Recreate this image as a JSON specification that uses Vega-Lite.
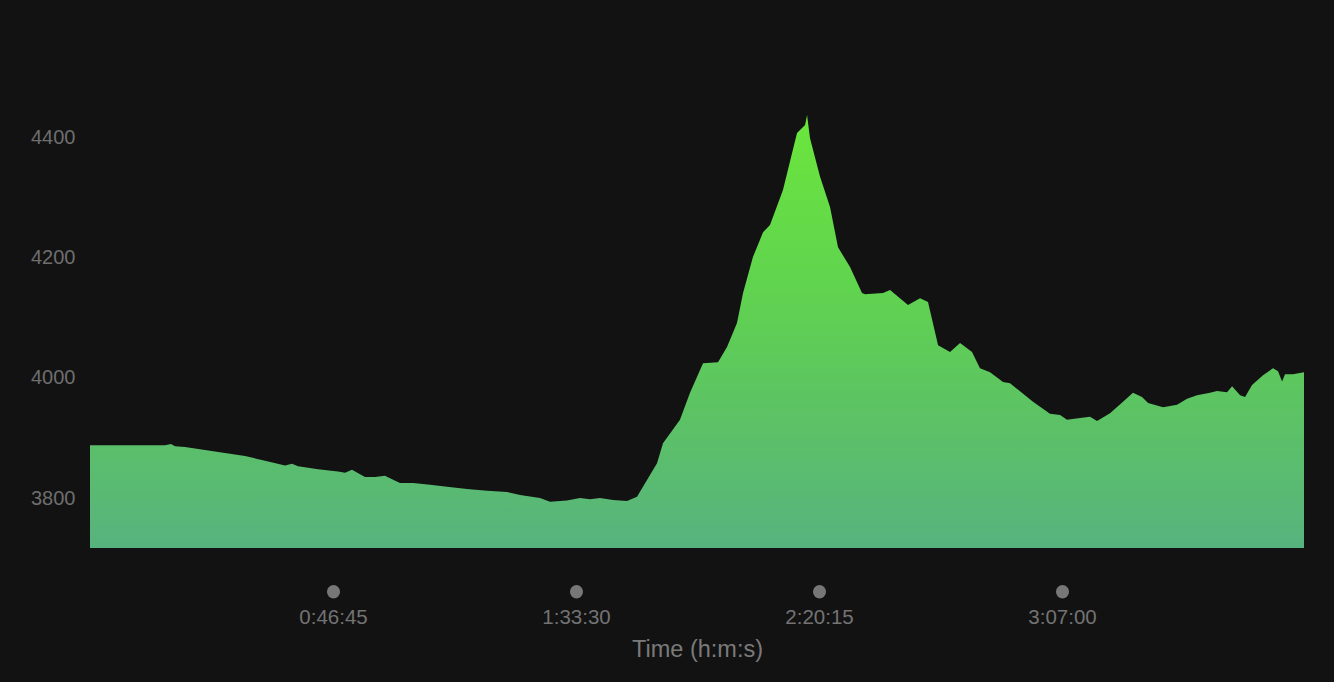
{
  "$schema": "https://vega.github.io/schema/vega-lite/v6.json",
  "autosize": "none",
  "padding": {"left": 90, "top": 77, "right": 30, "bottom": 134},
  "width": 1214,
  "height": 471,
  "background": "#121212",
  "config": {
    "view": {"stroke": null},
    "font": "Liberation Sans"
  },
  "data": {
    "values": [
      {"s": 0, "v": 3888}, {"s": 866, "v": 3888}, {"s": 935, "v": 3890}, {"s": 981, "v": 3886},
      {"s": 1097, "v": 3885}, {"s": 1327, "v": 3880}, {"s": 1558, "v": 3875}, {"s": 1789, "v": 3870},
      {"s": 2020, "v": 3862}, {"s": 2251, "v": 3854}, {"s": 2332, "v": 3857}, {"s": 2401, "v": 3853},
      {"s": 2632, "v": 3848}, {"s": 2863, "v": 3844}, {"s": 2944, "v": 3842}, {"s": 3024, "v": 3847},
      {"s": 3174, "v": 3835}, {"s": 3290, "v": 3835}, {"s": 3405, "v": 3837}, {"s": 3463, "v": 3833},
      {"s": 3578, "v": 3825}, {"s": 3728, "v": 3825}, {"s": 3925, "v": 3822}, {"s": 4121, "v": 3819},
      {"s": 4352, "v": 3815}, {"s": 4583, "v": 3812}, {"s": 4814, "v": 3810}, {"s": 4964, "v": 3805},
      {"s": 5194, "v": 3800}, {"s": 5310, "v": 3794}, {"s": 5506, "v": 3796}, {"s": 5656, "v": 3800},
      {"s": 5772, "v": 3798}, {"s": 5887, "v": 3800}, {"s": 6037, "v": 3797}, {"s": 6199, "v": 3795},
      {"s": 6314, "v": 3802}, {"s": 6545, "v": 3858}, {"s": 6614, "v": 3891}, {"s": 6810, "v": 3930},
      {"s": 6926, "v": 3975}, {"s": 7076, "v": 4024}, {"s": 7249, "v": 4026}, {"s": 7353, "v": 4051},
      {"s": 7468, "v": 4091}, {"s": 7538, "v": 4141}, {"s": 7653, "v": 4201}, {"s": 7769, "v": 4242},
      {"s": 7849, "v": 4254}, {"s": 7999, "v": 4312}, {"s": 8161, "v": 4407}, {"s": 8254, "v": 4420},
      {"s": 8277, "v": 4437}, {"s": 8311, "v": 4398}, {"s": 8427, "v": 4334}, {"s": 8542, "v": 4284},
      {"s": 8634, "v": 4217}, {"s": 8773, "v": 4184}, {"s": 8911, "v": 4141}, {"s": 8946, "v": 4139},
      {"s": 9154, "v": 4141}, {"s": 9235, "v": 4146}, {"s": 9442, "v": 4121}, {"s": 9581, "v": 4132},
      {"s": 9673, "v": 4126}, {"s": 9789, "v": 4054}, {"s": 9927, "v": 4043}, {"s": 10043, "v": 4058},
      {"s": 10181, "v": 4043}, {"s": 10273, "v": 4016}, {"s": 10389, "v": 4009}, {"s": 10539, "v": 3993},
      {"s": 10620, "v": 3991}, {"s": 10885, "v": 3960}, {"s": 11081, "v": 3940}, {"s": 11197, "v": 3938},
      {"s": 11278, "v": 3930}, {"s": 11428, "v": 3933}, {"s": 11543, "v": 3935}, {"s": 11624, "v": 3928},
      {"s": 11774, "v": 3941}, {"s": 11924, "v": 3960}, {"s": 12039, "v": 3975}, {"s": 12143, "v": 3968},
      {"s": 12213, "v": 3958}, {"s": 12386, "v": 3951}, {"s": 12548, "v": 3955}, {"s": 12663, "v": 3965},
      {"s": 12778, "v": 3971}, {"s": 12928, "v": 3975}, {"s": 13009, "v": 3978}, {"s": 13125, "v": 3976},
      {"s": 13183, "v": 3986}, {"s": 13275, "v": 3971}, {"s": 13333, "v": 3968}, {"s": 13413, "v": 3988},
      {"s": 13540, "v": 4004}, {"s": 13656, "v": 4016}, {"s": 13713, "v": 4011}, {"s": 13760, "v": 3994},
      {"s": 13794, "v": 4006}, {"s": 13886, "v": 4006}, {"s": 14013, "v": 4009}
    ]
  },
  "mark": {
    "type": "area",
    "interpolate": "linear",
    "clip": true,
    "color": {
      "gradient": "linear",
      "x1": 0, "y1": 1, "x2": 0, "y2": 0,
      "stops": [
        {"offset": 0, "color": "#57b37e"},
        {"offset": 0.3, "color": "#5cc265"},
        {"offset": 0.6, "color": "#60d34f"},
        {"offset": 1, "color": "#6be63c"}
      ]
    }
  },
  "encoding": {
    "x": {
      "field": "s",
      "type": "quantitative",
      "scale": {"domain": [0, 14013], "nice": false, "zero": false},
      "axis": {
        "values": [2805, 5610, 8415, 11220],
        "labelExpr": "floor(datum.value/3600) + ':' + format(floor((datum.value%3600)/60), '02d') + ':' + format(datum.value%60, '02d')",
        "domain": false,
        "grid": false,
        "offset": 43,
        "ticks": true,
        "tickSize": 0.5,
        "tickWidth": 13,
        "tickCap": "round",
        "tickColor": "#777777",
        "labelPadding": 16,
        "labelFontSize": 20.5,
        "labelColor": "#737373",
        "title": "Time (h:m:s)",
        "titleFontSize": 23.5,
        "titleFontWeight": "normal",
        "titleColor": "#7a7a7a",
        "titlePadding": 9
      }
    },
    "y": {
      "field": "v",
      "type": "quantitative",
      "scale": {"domain": [3717, 4500], "nice": false, "zero": false},
      "axis": {
        "values": [3800, 4000, 4200, 4400],
        "format": "d",
        "domain": false,
        "grid": false,
        "ticks": false,
        "labelPadding": 15,
        "labelFontSize": 20,
        "labelColor": "#6e6e6e",
        "title": null
      }
    },
    "y2": {"datum": 3717}
  }
}
